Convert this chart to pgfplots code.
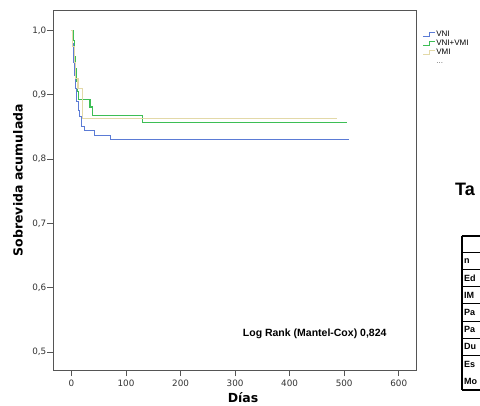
\documentclass[border=0pt]{standalone}
\usepackage{pgfplots}
\pgfplotsset{compat=1.18}
\usepackage{fontspec}
\setmainfont{Liberation Sans}
\newfontfamily\dejavu{DejaVu Sans}

\definecolor{cvni}{HTML}{5B7BD5}
\definecolor{cvnivmi}{HTML}{3DBE55}
\definecolor{cvmi}{HTML}{E3D9A8}
\definecolor{frame}{HTML}{555555}

\begin{document}
\begin{tikzpicture}
\useasboundingbox (0pt,0pt) rectangle (480pt,-405pt);
\clip (0pt,0pt) rectangle (480pt,-405pt);
\begin{axis}[
    at={(53.5pt,-370pt)}, anchor=south west,
    scale only axis,
    width=363.2pt, height=359.5pt,
    xmin=-33, xmax=633,
    ymin=0.472, ymax=1.031,
    xtick={0,100,200,300,400,500,600},
    ytick={0.5,0.6,0.7,0.8,0.9,1.0},
    xtick pos=bottom, ytick pos=left,
    tick align=outside,
    major tick length=6pt,
    tick style={draw=frame, line width=0.8pt},
    axis line style={draw=frame, line width=0.9pt},
    /pgf/number format/assume math mode=true,
    ticklabel style={font=\dejavu\fontsize{8.8}{10}\selectfont, text=black!80},
    yticklabel style={inner sep=1pt, /pgf/number format/.cd, fixed, fixed zerofill, precision=1, use comma},
    xticklabel style={/pgf/number format/.cd, fixed, precision=0},
    xlabel={Días},
    ylabel={Sobrevida acumulada},
    xlabel style={at={(axis description cs:0.522,-0.078)}, anchor=center, font=\dejavu\bfseries\fontsize{12.5}{14}\selectfont},
    ylabel style={at={(axis description cs:-0.098,0.528)}, anchor=center, font=\dejavu\bfseries\fontsize{12.5}{14}\selectfont},
    legend style={at={(axis description cs:1.017,0.946)}, anchor=north west, draw=none, fill=none,
        font=\fontsize{8}{8}\selectfont, row sep=0.5pt, inner sep=0pt,
        nodes={inner sep=0.5pt, text height=6pt, text depth=1.5pt}},
    legend cell align=left,
    legend image code/.code={\draw[#1, line width=0.8pt] (0pt,-2pt) -- (6pt,-2pt) -- (6pt,1.5pt) -- (12pt,1.5pt);},
]
% VNI
\addplot[const plot, cvni, line width=1pt] coordinates {
    (0,1.0) (2,0.98) (4,0.95) (6,0.93) (8,0.91) (10,0.89) (12,0.875) (15,0.866)
    (18,0.850) (24,0.845) (42,0.837) (72,0.831) (508,0.831)
};
\addlegendentry{VNI}
% VNI+VMI
\addplot[const plot, cvnivmi, line width=1.1pt] coordinates {
    (0,1.0) (3,0.985) (5,0.96) (7,0.94) (9,0.92) (11,0.905) (13,0.893) (34,0.881)
    (38,0.868) (131,0.857) (505,0.857)
};
\addlegendentry{VNI+VMI}
% VMI
\addplot[const plot, cvmi, line width=1.1pt] coordinates {
    (0,1.0) (2,0.975) (5,0.95) (8,0.925) (12,0.910) (20,0.863) (486,0.863)
};
\addlegendentry{VMI}
\addlegendimage{empty legend}
\addlegendentry{\textcolor{black!60}{...}}
\node[anchor=east, font=\bfseries\fontsize{10.5}{12}\selectfont] at (axis cs:584,0.528) {Log Rank (Mantel-Cox) 0,824};
\end{axis}
% part of the neighbouring table
\node[anchor=west, inner sep=0pt, font=\bfseries\fontsize{18}{20}\selectfont] at (455pt,-189pt) {Ta};
\draw[line width=1.6pt] (462pt,-236pt) -- (462pt,-390pt);
\draw[line width=1.2pt] (461.5pt,-236pt) -- (480pt,-236pt);
\draw[line width=1.2pt] (461.5pt,-390pt) -- (480pt,-390pt);
\foreach \k in {0,...,6} {
  \draw[line width=0.7pt] (462pt,{-252pt-17.25pt*\k}) -- (480pt,{-252pt-17.25pt*\k});
}
\foreach \t [count=\i from 0] in {n,Ed,IM,Pa,Pa,Du,Es,Mo} {
  \node[anchor=west, inner sep=0pt, font=\bfseries\fontsize{9}{10}\selectfont] at (464pt,{-260.6pt-17.25pt*\i}) {\t};
}
\end{tikzpicture}
\end{document}
